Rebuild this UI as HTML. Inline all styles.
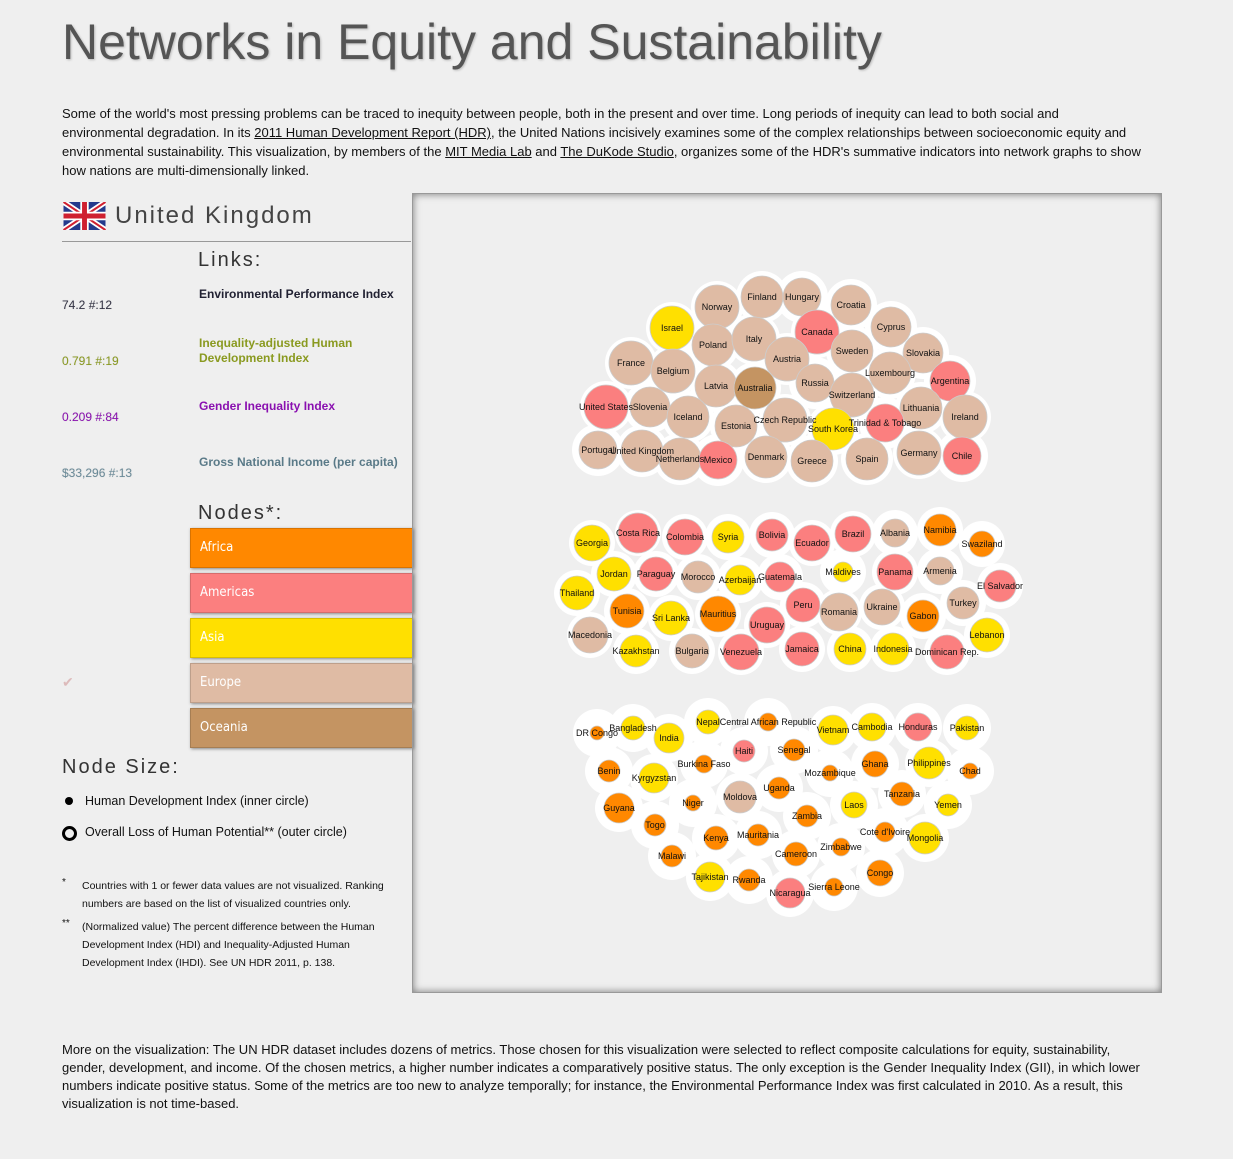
<!DOCTYPE html>
<html><head><meta charset="utf-8"><style>
body{margin:0;background:#efefef;font-family:"Liberation Sans",sans-serif;color:#111;width:1233px;height:1159px;overflow:hidden;position:relative}
.a{position:absolute}
#title{left:62px;top:13px;font-size:50px;color:#555;letter-spacing:0px;text-shadow:1px 1px 2px #bbb}
.p{font-size:13px;line-height:19px;left:62px;width:1120px;white-space:nowrap}
.p u{color:#111}
.val{font-size:12px;left:62px;text-shadow:0 0 1px #ccc}
.lab{font-size:12px;left:199px;font-weight:bold;width:215px;line-height:15px}
.btn{left:190px;width:221px;height:38px;color:#fff;font-size:13px;line-height:38px;text-indent:9px;box-shadow:1px 1px 3px #888;border:1px solid rgba(0,0,0,.15);font-family:"DejaVu Sans Condensed","Liberation Sans",sans-serif}
.hd{font-size:20px;color:#333;letter-spacing:2px}
.note{font-size:10.5px;line-height:18px;left:82px;width:320px}
</style></head><body>
<div class="a" id="title">Networks in Equity and Sustainability</div>
<div class="a p" style="top:104px">Some of the world's most pressing problems can be traced to inequity between people, both in the present and over time. Long periods of inequity can lead to both social and<br>environmental degradation. In its <u>2011 Human Development Report (HDR)</u>, the United Nations incisively examines some of the complex relationships between socioeconomic equity and<br>environmental sustainability. This visualization, by members of the <u>MIT Media Lab</u> and <u>The DuKode Studio</u>, organizes some of the HDR's summative indicators into network graphs to show<br>how nations are multi-dimensionally linked.</div>

<svg class="a" style="left:63px;top:202px" width="43" height="28" viewBox="0 0 60 40">
<rect width="60" height="40" fill="#243a8c"/><path d="M0,0L60,40M60,0L0,40" stroke="#fff" stroke-width="8"/><path d="M0,0L60,40M60,0L0,40" stroke="#cf2030" stroke-width="3"/><path d="M30,0V40M0,20H60" stroke="#fff" stroke-width="12"/><path d="M30,0V40M0,20H60" stroke="#cf2030" stroke-width="7"/></svg>
<div class="a" style="left:115px;top:202px;font-size:24px;color:#444;letter-spacing:2px">United Kingdom</div>
<div class="a" style="left:62px;top:241px;width:349px;height:1px;background:#999"></div>
<div class="a hd" style="left:198px;top:249px">Links:</div>
<div class="a val" style="top:298px;color:#334">74.2 #:12</div>
<div class="a lab" style="top:287px;color:#223">Environmental Performance Index</div>
<div class="a val" style="top:354px;color:#8a9a20">0.791 #:19</div>
<div class="a lab" style="top:336px;color:#8a9a20;width:170px">Inequality-adjusted Human Development Index</div>
<div class="a val" style="top:410px;color:#8a10b0">0.209 #:84</div>
<div class="a lab" style="top:399px;color:#8a10b0">Gender Inequality Index</div>
<div class="a val" style="top:466px;color:#6a8a98">$33,296 #:13</div>
<div class="a lab" style="top:455px;color:#5a7a88">Gross National Income (per capita)</div>
<div class="a hd" style="left:198px;top:502px">Nodes*:</div>
<div class="a btn" style="top:528px;background:#ff8800">Africa</div>
<div class="a btn" style="top:573px;background:#fb7f7f">Americas</div>
<div class="a btn" style="top:618px;background:#ffe000">Asia</div>
<div class="a btn" style="top:663px;background:#dfbba4">Europe</div>
<div class="a btn" style="top:708px;background:#c49462">Oceania</div>
<div class="a" style="left:62px;top:674px;color:#dbb;font-size:14px">✔</div>
<div class="a hd" style="left:62px;top:756px">Node Size:</div>
<div class="a" style="left:65px;top:797px;width:8px;height:8px;border-radius:50%;background:#000"></div>
<div class="a" style="left:85px;top:794px;font-size:12.5px">Human Development Index (inner circle)</div>
<div class="a" style="left:62px;top:826px;width:9px;height:9px;border-radius:50%;border:3px solid #000"></div>
<div class="a" style="left:85px;top:825px;font-size:12.5px">Overall Loss of Human Potential** (outer circle)</div>
<div class="a" style="left:62px;top:877px;font-size:10px">*</div>
<div class="a note" style="top:877px">Countries with 1 or fewer data values are not visualized. Ranking numbers are based on the list of visualized countries only.</div>
<div class="a" style="left:62px;top:918px;font-size:10px">**</div>
<div class="a note" style="top:918px">(Normalized value) The percent difference between the Human Development Index (HDI) and Inequality-Adjusted Human Development Index (IHDI). See UN HDR 2011, p. 138.</div>

<svg class="a" id="net" style="left:412px;top:193px;border:1px solid #999;box-shadow:inset 0 0 8px #777" width="748" height="798"></svg>

<div class="a p" style="top:1041px;line-height:18px">More on the visualization: The UN HDR dataset includes dozens of metrics. Those chosen for this visualization were selected to reflect composite calculations for equity, sustainability,<br>gender, development, and income. Of the chosen metrics, a higher number indicates a comparatively positive status. The only exception is the Gender Inequality Index (GII), in which lower<br>numbers indicate positive status. Some of the metrics are too new to analyze temporally; for instance, the Environmental Performance Index was first calculated in 2010. As a result, this<br>visualization is not time-based.</div>

<script>
const colors={Af:"#ff8800",Am:"#fb7f7f",As:"#ffe000",Eu:"#dfbba4",Oc:"#c49462"};
const names1=["Norway","Finland","Hungary","Croatia","Israel","Canada","Cyprus","Poland","Italy","Sweden","Slovakia","France","Belgium","Austria","Luxembourg","Argentina","Latvia","Australia","Russia","Switzerland","United States","Slovenia","Iceland","Lithuania","Ireland","Estonia","Czech Republic","South Korea","Trinidad & Tobago","Portugal","United Kingdom","Netherlands","Mexico","Denmark","Greece","Spain","Germany","Chile"];
const regions1=["Eu","Eu","Eu","Eu","As","Am","Eu","Eu","Eu","Eu","Eu","Eu","Eu","Eu","Eu","Am","Eu","Oc","Eu","Eu","Am","Eu","Eu","Eu","Eu","Eu","Eu","As","Am","Eu","Eu","Eu","Am","Eu","Eu","Eu","Eu","Am"];
const pos1=[[717,307],[762,297],[802,297],[851,305],[672,328],[817,332],[891,327],[713,345],[754,339],[852,351],[923,353],[631,363],[673,371],[787,359],[890,373],[950,381],[716,386],[755,388],[815,383],[852,395],[606,407],[650,407],[688,417],[921,408],[965,417],[736,426],[785,420],[833,429],[885,423],[598,450],[642,451],[680,459],[718,460],[766,457],[812,461],[867,459],[919,453],[962,456]];
const hdi1=[22,21,19,20,22,22,20,21,22,21,20,22,22,22,21,20,21,21,19,22,22,20,21,21,22,21,22,21,19,19,21,21,19,21,21,21,22,19];
const names2=["Georgia","Costa Rica","Colombia","Syria","Bolivia","Ecuador","Brazil","Albania","Namibia","Swaziland","Jordan","Paraguay","Morocco","Azerbaijan","Guatemala","Maldives","Panama","Armenia","El Salvador","Thailand","Tunisia","Sri Lanka","Mauritius","Uruguay","Peru","Romania","Ukraine","Gabon","Turkey","Macedonia","Kazakhstan","Bulgaria","Venezuela","Jamaica","China","Indonesia","Dominican Rep.","Lebanon"];
const regions2=["As","Am","Am","As","Am","Am","Am","Eu","Af","Af","As","Am","Eu","As","Am","As","Am","Eu","Am","As","Af","As","Af","Am","Am","Eu","Eu","Af","Eu","Eu","As","Eu","Am","Am","As","As","Am","As"];
const pos2=[[592,543],[638,533],[685,537],[728,537],[772,535],[812,543],[853,534],[895,533],[940,530],[982,544],[614,574],[656,574],[698,577],[740,580],[780,577],[843,572],[895,572],[940,571],[1000,586],[577,593],[627,611],[671,618],[718,614],[767,625],[803,605],[839,612],[882,607],[923,616],[963,603],[590,635],[636,651],[692,651],[741,652],[802,649],[850,649],[893,649],[947,652],[987,635]];
const hdi2=[18,20,18,16,16,18,18,14,16,13,17,17,16,15,15,10,18,14,16,17,17,17,18,18,17,19,18,16,16,18,16,17,18,17,16,16,17,17];
const names3=["DR Congo","Bangladesh","India","Nepal","Central African Republic","Vietnam","Cambodia","Honduras","Pakistan","Haiti","Senegal","Benin","Kyrgyzstan","Burkina Faso","Mozambique","Ghana","Philippines","Chad","Moldova","Uganda","Niger","Guyana","Laos","Tanzania","Yemen","Togo","Zambia","Kenya","Mauritania","Cote d'Ivoire","Mongolia","Zimbabwe","Cameroon","Malawi","Congo","Tajikistan","Rwanda","Nicaragua","Sierra Leone"];
const regions3=["Af","As","As","As","Af","As","As","Am","As","Am","Af","Af","As","Af","Af","Af","As","Af","Eu","Af","Af","Af","As","Af","As","Af","Af","Af","Af","Af","As","Af","Af","Af","Af","As","Af","Am","Af"];
const pos3=[[597,733],[633,728],[669,738],[708,722],[768,722],[833,730],[872,727],[918,727],[967,728],[744,751],[794,750],[609,771],[654,778],[704,764],[830,773],[875,764],[929,763],[970,771],[740,797],[779,788],[693,803],[619,808],[854,805],[902,794],[948,805],[655,825],[807,816],[716,838],[758,835],[885,832],[925,838],[841,847],[796,854],[672,856],[880,873],[710,877],[749,880],[790,893],[834,887]];
const hdi3=[7,12,15,12,9,15,14,14,12,11,11,11,15,9,8,13,16,8,16,11,8,15,13,12,11,11,11,12,11,10,16,9,12,11,13,15,11,15,9];
const loss=[26,23,24];
const svg=document.getElementById('net');
const NS="http://www.w3.org/2000/svg";
const OX=413,OY=194;
const groups=[[names1,regions1,pos1,hdi1],[names2,regions2,pos2,hdi2],[names3,regions3,pos3,hdi3]];
groups.forEach((g,gi)=>{
  const [nm,rg,ps,hd]=g;
  nm.forEach((n,i)=>{const c=document.createElementNS(NS,'circle');
    
    
    c.setAttribute('cx',ps[i][0]-OX);c.setAttribute('cy',ps[i][1]-OY);c.setAttribute('r',loss[gi]);c.setAttribute('fill','#fff');svg.appendChild(c);});
  nm.forEach((n,i)=>{const c=document.createElementNS(NS,'circle');
    
    
    c.setAttribute('cx',ps[i][0]-OX);c.setAttribute('cy',ps[i][1]-OY);c.setAttribute('r',hd[i]);c.setAttribute('fill',colors[rg[i]]);c.setAttribute('stroke','#ccc');c.setAttribute('stroke-width','0.8');svg.appendChild(c);});
  nm.forEach((n,i)=>{const t=document.createElementNS(NS,'text');
    
    
    t.setAttribute('x',ps[i][0]-OX);t.setAttribute('y',ps[i][1]-OY+3);t.setAttribute('text-anchor','middle');t.setAttribute('font-size','9');t.setAttribute('fill','#111');t.textContent=n;svg.appendChild(t);});
});
</script>
</body></html>
